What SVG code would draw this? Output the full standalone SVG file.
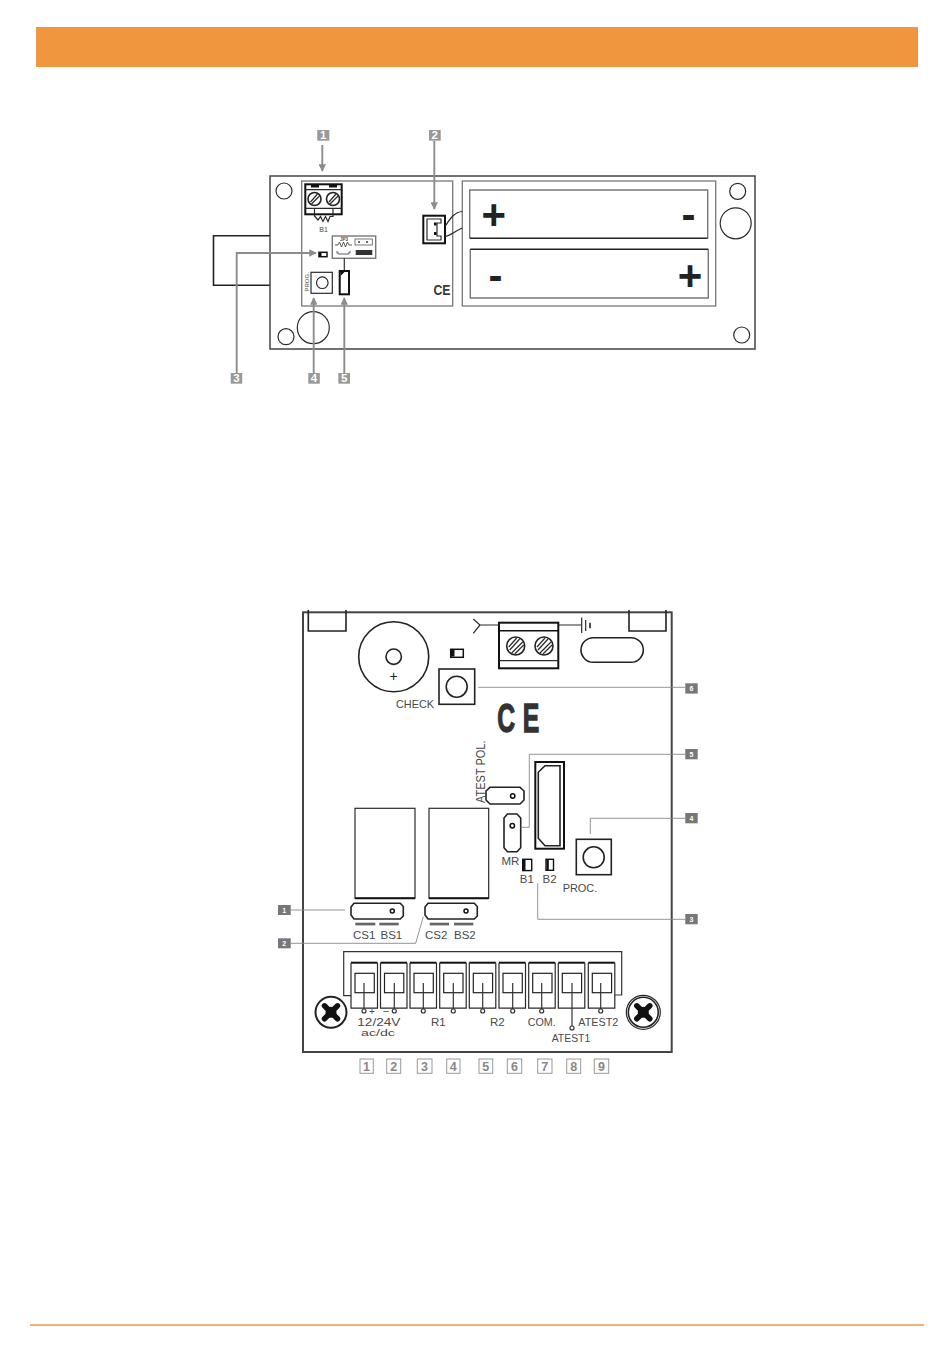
<svg xmlns="http://www.w3.org/2000/svg" width="950" height="1357" viewBox="0 0 950 1357">
<style>
text{font-family:"Liberation Sans",Arial,sans-serif;fill:#4a4a4a}
.o{fill:none;stroke:#2a2a2a;stroke-width:1.2}
.m{fill:none;stroke:#222;stroke-width:1.6}
.t{fill:none;stroke:#111;stroke-width:2}
.g{fill:none;stroke:#777;stroke-width:1.3}
.w{fill:#fff;stroke:#222;stroke-width:1.2}
.a{fill:none;stroke:#8c8c8c;stroke-width:1.9}
.l{fill:none;stroke:#888;stroke-width:.9}
.tagA{fill:#999}
.tagB{fill:#777}
.na{fill:#fff;font-weight:bold;font-size:11.5px;text-anchor:middle}
.nb{fill:#fff;font-weight:bold;font-size:7px;text-anchor:middle}
.lb{font-size:11.5px}
.bg{fill:#222;font-weight:bold;text-anchor:middle;font-size:42px}
.num{fill:#888;font-size:12.5px;font-weight:bold;text-anchor:middle}
.box{fill:#fff;stroke:#999;stroke-width:1}
.dk{fill:#333}
</style>
<defs>
<marker id="arr" viewBox="0 0 10 10" refX="9" refY="5" markerWidth="7.500" markerHeight="7.500" orient="auto" markerUnits="userSpaceOnUse"><path d="M0 0L10 5L0 10Z" fill="#8c8c8c"/></marker>
<g id="screwA"><circle r="6.500" class="m"/><path d="M-4 3L3 -5M-3 5L5 -3" class="o"/></g>
<g id="screwB"><circle r="9" class="m"/><path d="M-6 4L4 -7M-4 7L7 -4M-7 1L1 -8M-1 8L8 -1" class="o"/></g>
<g id="cross"><path d="M-6.500 -6.500L6.500 6.500M-6.500 6.500L6.500 -6.500" stroke="#111" stroke-width="5.500" stroke-linecap="round" fill="none"/><circle r="5.500" fill="#111"/></g>
<g id="term"><path d="M0 0H26.500" stroke="#111" stroke-width="2" fill="none"/><path d="M0 0V45.500H26.500V0" class="o"/><rect x="4" y="10.600" width="19.300" height="19.400" class="w"/></g>
</defs>

<rect id="header" x="36" y="27" width="882" height="40" fill="#F0963F"/>
<path id="footer" d="M30 1325H924" stroke="#EE9A4D" stroke-width="1.600" fill="none"/>

<g id="enclosure">
<path d="M270 235.700H213.500V285.300H270" class="m"/>
<rect x="270" y="176" width="485" height="173" fill="#fff" stroke="#444" stroke-width="1.500"/>
<circle cx="284" cy="191" r="8" class="o"/><circle cx="286" cy="336.700" r="8" class="o"/><circle cx="313.300" cy="327.700" r="16" class="o"/>
<circle cx="737.700" cy="191.300" r="8" class="o"/><circle cx="735.700" cy="223.300" r="15.500" class="o"/><circle cx="741.700" cy="335" r="8" class="o"/>
<rect x="301.700" y="181" width="151" height="125" class="g"/>
</g>

<g id="battery-holder">
<rect x="462.300" y="181" width="253.400" height="125" class="g"/>
<path d="M469.700 238.300V190H707.700V238.300" fill="none" stroke="#777" stroke-width="1.400"/><path d="M469.700 238.300H707.700" class="m"/>
<path d="M470.300 249.300V298H708.300V249.300" fill="none" stroke="#777" stroke-width="1.400"/><path d="M470.300 249.300H708.300" class="m"/>
<text x="493.700" y="228.500" class="bg">+</text><text x="688.500" y="229" class="bg">-</text>
<text x="495.500" y="289.500" class="bg">-</text><text x="690" y="289.500" class="bg">+</text>
</g>

<g id="terminal-top">
<rect x="305.300" y="184.300" width="36.400" height="30" class="t"/>
<path d="M305.300 189.700H341.700M305.300 208.300H341.700" class="o"/>
<rect x="311" y="185" width="8" height="2.500" fill="#111"/><rect x="329" y="185" width="8" height="2.500" fill="#111"/>
<use href="#screwA" x="314.500" y="199"/><use href="#screwA" x="333" y="199"/>
<path d="M314.500 208V216L318 220L320.500 216.500L323 221.500L325.500 216.500L328 221.500L330 216.500L333 216.500V208" class="o" stroke-width="1"/>
<text x="323.500" y="231.500" font-size="7" text-anchor="middle">B1</text>
</g>

<g id="connector-2">
<rect x="423.300" y="215.700" width="21.700" height="27.600" class="t"/>
<path d="M427 219V240H441V236H437V223H441V219Z" class="o"/>
<rect x="434" y="222.500" width="2.500" height="3" fill="#111"/><rect x="434" y="232" width="2.500" height="3" fill="#111"/>
<path d="M445 226.500C450 219 454 212 462.300 211.500M445 236.500C450 236 455 231 462.300 228" class="o"/>
</g>

<g id="jumper-box">
<rect x="332.300" y="236" width="43.400" height="22.300" fill="#fff" stroke="#777" stroke-width="1.400"/>
<rect x="355" y="239" width="17.300" height="6" fill="#fff" stroke="#555" stroke-width=".8"/>
<rect x="355.700" y="250" width="16.600" height="5" class="dk"/>
<circle cx="359" cy="242" r=".9" fill="#222"/><circle cx="367" cy="242" r=".9" fill="#222"/>
<text x="344" y="240.500" font-size="4.500" text-anchor="middle" font-weight="bold">JP3</text>
<path d="M335 245H338L339.500 242L341.500 247L343.500 242L345.500 247L347.500 242L349 245H352M336 252H338V254H349V252H351" fill="none" stroke="#333" stroke-width=".8"/>
<path d="M344.300 258.300V271" stroke="#333" stroke-width="1.200" fill="none"/>
</g>

<g id="jumper-top">
<rect x="339.700" y="271" width="9.300" height="23.300" class="t"/>
<path d="M340.500 272H344.500L340.500 276Z" fill="#111"/>
</g>

<g id="led-top"><rect x="319" y="252.300" width="8" height="4.400" fill="#fff" stroke="#111" stroke-width="1.500"/><rect x="319" y="252.300" width="2.500" height="4.400" fill="#111"/></g>

<g id="prog-top">
<rect x="311" y="272.300" width="21.300" height="21" class="o"/><circle cx="322.300" cy="282.700" r="5.800" class="o"/>
<text transform="translate(309,291.500) rotate(-90)" font-size="6">PROG.</text>
</g>

<text id="ce-top" x="433.500" y="295" font-size="15" font-weight="bold" textLength="17" lengthAdjust="spacingAndGlyphs" style="fill:#3a3a3a">CE</text>

<g id="tags-top">
<g id="tag-top-1"><rect x="317.300" y="130" width="12" height="10.700" class="tagA"/><text x="323.300" y="139.300" class="na">1</text></g>
<g id="tag-top-2"><rect x="429" y="130" width="11.700" height="10.700" class="tagA"/><text x="434.800" y="139.300" class="na">2</text></g>
<g id="tag-top-3"><rect x="230.700" y="373" width="11.500" height="10.700" class="tagA"/><text x="236.500" y="382.300" class="na">3</text></g>
<g id="tag-top-4"><rect x="308.300" y="373" width="11.500" height="10.700" class="tagA"/><text x="314" y="382.300" class="na">4</text></g>
<g id="tag-top-5"><rect x="338.300" y="373" width="11.700" height="10.700" class="tagA"/><text x="344.200" y="382.300" class="na">5</text></g>
</g>

<g id="connectors-top">
<path d="M322.300 145V171" class="a" marker-end="url(#arr)"/>
<path d="M434.300 141V209" class="a" marker-end="url(#arr)"/>
<path d="M236.700 373V253H316" class="a" marker-end="url(#arr)"/>
<path d="M313.700 373V298" class="a" marker-end="url(#arr)"/>
<path d="M344.300 373V298" class="a" marker-end="url(#arr)"/>
</g>

<g id="board">
<rect x="303" y="612.300" width="368.700" height="439.700" fill="#fff" stroke="#444" stroke-width="2"/>
<path d="M308.300 610V631H346V610" class="m"/>
<path d="M629 610V631H666V610" class="m"/>
</g>

<g id="buzzer"><circle cx="393.700" cy="656.700" r="35" class="m"/><circle cx="393.700" cy="656.700" r="7.700" class="m"/><text x="393.700" y="681" font-size="14" text-anchor="middle" style="fill:#222">+</text></g>
<g id="led-check"><rect x="450.700" y="649.300" width="12.600" height="8" fill="#fff" stroke="#111" stroke-width="1.500"/><rect x="451" y="650" width="3.500" height="6.500" fill="#111"/></g>
<g id="check"><rect x="439" y="669" width="35.700" height="35.300" class="m"/><circle cx="456.700" cy="686.700" r="10.500" class="m"/><text x="396" y="708.300" class="lb" textLength="38" lengthAdjust="spacingAndGlyphs">CHECK</text></g>

<g id="antenna"><path d="M473.300 619L480 625L473.300 633.300M480 625H581.700" class="o"/><path d="M581.700 617.500V633M585.700 620V631" class="o"/><path d="M590 622.700V628.300" class="m"/></g>
<g id="terminal-ant">
<rect x="499" y="622.700" width="59.300" height="45.600" fill="#fff" stroke="#111" stroke-width="2"/>
<path d="M499 630.700H558.300" stroke="#111" stroke-width="1.600"/><path d="M499 660.700H558.300" class="o"/>
<use href="#screwB" x="515.700" y="646"/><use href="#screwB" x="544" y="646"/>
</g>
<rect id="oblong" x="581" y="637.700" width="62.300" height="24.600" rx="12.300" class="m"/>
<text id="ce-big" transform="scale(.62,1)" x="802 843" y="732.500" font-size="40" font-weight="bold" stroke="#333" stroke-width="1.300" style="fill:#333">CE</text>

<g id="atest-pol">
<text transform="translate(485,803) rotate(-90)" font-size="12" textLength="62.500" lengthAdjust="spacingAndGlyphs">ATEST POL.</text>
<path d="M490 787.300H520L524 791V800L520 804H490L486 800V791Z" class="m"/><circle cx="512.700" cy="796" r="2.200" fill="none" stroke="#111" stroke-width="1.500"/>
</g>
<g id="mr">
<path d="M507.500 814H517L520.700 818V847.700L517 851.700H507.500L504 847.700V818Z" class="m"/><circle cx="512.300" cy="825.700" r="2.200" fill="none" stroke="#111" stroke-width="1.500"/>
<text x="501.500" y="865" class="lb">MR</text>
</g>
<g id="conn-big">
<rect x="535.300" y="762" width="28.700" height="86.700" class="t"/>
<path d="M538.300 772.300L545 765.700H560V845.700H545L538.300 838.300Z" class="m"/>
</g>
<g id="prog"><rect x="576.300" y="839.300" width="35" height="35.400" class="m"/><circle cx="593.700" cy="857.300" r="10.500" class="m"/><text x="562.700" y="892.300" class="lb" textLength="34.600" lengthAdjust="spacingAndGlyphs">PROC.</text></g>
<g id="led-b1"><rect x="522.700" y="859.300" width="9" height="11.300" fill="#fff" stroke="#111" stroke-width="1.400"/><rect x="523" y="860" width="2.500" height="10" fill="#111"/><text x="519.800" y="883.300" class="lb">B1</text></g>
<g id="led-b2"><rect x="546" y="859.300" width="7.500" height="11" fill="#fff" stroke="#111" stroke-width="1.400"/><rect x="546.500" y="860" width="2.300" height="10" fill="#111"/><text x="542.500" y="883.300" class="lb">B2</text></g>

<g id="relay-1"><rect x="355" y="808.300" width="60" height="90" class="o"/><path d="M355 898.300H415" stroke="#111" stroke-width="2"/></g>
<g id="relay-2"><rect x="429" y="808.300" width="59.700" height="90" class="o"/><path d="M429 898.300H488.700" stroke="#111" stroke-width="2"/></g>
<g id="jumper-1">
<path d="M354 903.300H400.300L403.300 906.500V916L400.300 919H354L351 915V907Z" class="m"/><circle cx="392.300" cy="911" r="2" fill="none" stroke="#111" stroke-width="1.500"/>
<rect x="355.300" y="922.700" width="20" height="2.700" fill="#666"/><rect x="379.300" y="922.700" width="19.400" height="2.700" fill="#666"/>
<text x="353" y="939" class="lb">CS1</text><text x="380.500" y="939" class="lb">BS1</text>
</g>
<g id="jumper-2">
<path d="M428 903.300H474.300L477.300 906.500V916L474.300 919H428L425 915V907Z" class="m"/><circle cx="466" cy="911" r="2" fill="none" stroke="#111" stroke-width="1.500"/>
<rect x="429.700" y="922.700" width="19.300" height="2.700" fill="#666"/><rect x="454" y="922.700" width="19.300" height="2.700" fill="#666"/>
<text x="425" y="939" class="lb">CS2</text><text x="454" y="939" class="lb">BS2</text>
</g>

<g id="terminal-block">
<path d="M351 995.700H343.700V951.700H621.700V995H615" fill="none" stroke="#333" stroke-width="1.200"/>
<use href="#term" x="351" y="962.700"/><use href="#term" x="380.500" y="962.700"/><use href="#term" x="410" y="962.700"/>
<use href="#term" x="439.700" y="962.700"/><use href="#term" x="469.300" y="962.700"/><use href="#term" x="499" y="962.700"/>
<use href="#term" x="528.700" y="962.700"/><use href="#term" x="558.300" y="962.700"/><use href="#term" x="588.300" y="962.700"/>
<g fill="none" stroke="#333" stroke-width="1.200">
<path d="M364 983V1009"/><circle cx="364" cy="1011" r="2"/>
<path d="M394.300 983V1009"/><circle cx="394.300" cy="1011" r="2"/>
<path d="M423.300 983V1009"/><circle cx="423.300" cy="1011" r="2"/>
<path d="M453.300 983V1009"/><circle cx="453.300" cy="1011" r="2"/>
<path d="M482.700 983V1009"/><circle cx="482.700" cy="1011" r="2"/>
<path d="M512.700 983V1009"/><circle cx="512.700" cy="1011" r="2"/>
<path d="M541.700 983V1009"/><circle cx="541.700" cy="1011" r="2"/>
<path d="M572 983V1026"/><circle cx="572" cy="1028" r="2"/>
<path d="M600.700 983V1009"/><circle cx="600.700" cy="1011" r="2"/>
</g>
<text x="372" y="1015" font-size="10" text-anchor="middle">+</text>
<text x="386" y="1014.500" font-size="11" text-anchor="middle">−</text>
<text x="357.300" y="1026" class="lb" textLength="43" lengthAdjust="spacingAndGlyphs">12/24V</text>
<text x="361" y="1036" font-size="8.500" textLength="34" lengthAdjust="spacingAndGlyphs">ac/dc</text>
<text x="431" y="1026" class="lb">R1</text><text x="490" y="1026" class="lb">R2</text>
<text x="527.700" y="1026" class="lb" textLength="28" lengthAdjust="spacingAndGlyphs">COM.</text>
<text x="578.300" y="1026" class="lb" textLength="40" lengthAdjust="spacingAndGlyphs">ATEST2</text>
<text x="551.700" y="1042" class="lb" textLength="38.500" lengthAdjust="spacingAndGlyphs">ATEST1</text>
</g>

<g id="screw-left"><circle cx="331" cy="1012.300" r="15.500" fill="none" stroke="#222" stroke-width="2"/><use href="#cross" x="331" y="1012.300"/></g>
<g id="screw-right"><circle cx="643.300" cy="1012.300" r="17" class="o"/><circle cx="643.300" cy="1012.300" r="15" class="m"/><use href="#cross" x="643.300" y="1012.300"/></g>

<g id="numbers">
<g id="n1"><rect x="360" y="1059" width="13.300" height="14.300" class="box"/><text x="366.600" y="1070.500" class="num">1</text></g>
<g id="n2"><rect x="386.700" y="1059" width="14" height="14.300" class="box"/><text x="393.700" y="1070.500" class="num">2</text></g>
<g id="n3"><rect x="417.300" y="1059" width="14.700" height="14.300" class="box"/><text x="424.600" y="1070.500" class="num">3</text></g>
<g id="n4"><rect x="446.700" y="1059" width="13.300" height="14.300" class="box"/><text x="453.300" y="1070.500" class="num">4</text></g>
<g id="n5"><rect x="479" y="1059" width="13.700" height="14.300" class="box"/><text x="485.800" y="1070.500" class="num">5</text></g>
<g id="n6"><rect x="507.300" y="1059" width="14.400" height="14.300" class="box"/><text x="514.500" y="1070.500" class="num">6</text></g>
<g id="n7"><rect x="537.700" y="1059" width="14.300" height="14.300" class="box"/><text x="544.800" y="1070.500" class="num">7</text></g>
<g id="n8"><rect x="566.700" y="1059" width="14" height="14.300" class="box"/><text x="573.700" y="1070.500" class="num">8</text></g>
<g id="n9"><rect x="594.300" y="1059" width="14.400" height="14.300" class="box"/><text x="601.500" y="1070.500" class="num">9</text></g>
</g>

<g id="connectors-bottom">
<path d="M290.700 910H345" class="l"/>
<path d="M290.700 943.300H415.700L423.300 916.700" class="l"/>
<path d="M478.300 687.300H685.300" class="l"/>
<path d="M520.700 827.300H529.300V754.300H685.300" class="l"/>
<path d="M590.300 834V818.300H685.300" class="l"/>
<path d="M537.700 883.300V919.300H685.300" class="l"/>
</g>

<g id="tags-bottom">
<g id="tag-b1"><rect x="278" y="905" width="12.700" height="10" class="tagB"/><text x="284.300" y="912.500" class="nb">1</text></g>
<g id="tag-b2"><rect x="278" y="938.300" width="12.700" height="10" class="tagB"/><text x="284.300" y="945.800" class="nb">2</text></g>
<g id="tag-b3"><rect x="685.300" y="914" width="12.400" height="10.300" class="tagB"/><text x="691.500" y="921.700" class="nb">3</text></g>
<g id="tag-b4"><rect x="685.300" y="813" width="12.400" height="10.300" class="tagB"/><text x="691.500" y="820.700" class="nb">4</text></g>
<g id="tag-b5"><rect x="685.300" y="749" width="12.400" height="10.300" class="tagB"/><text x="691.500" y="756.700" class="nb">5</text></g>
<g id="tag-b6"><rect x="685.300" y="683.300" width="12.400" height="10.300" class="tagB"/><text x="691.500" y="691" class="nb">6</text></g>
</g>
</svg>
